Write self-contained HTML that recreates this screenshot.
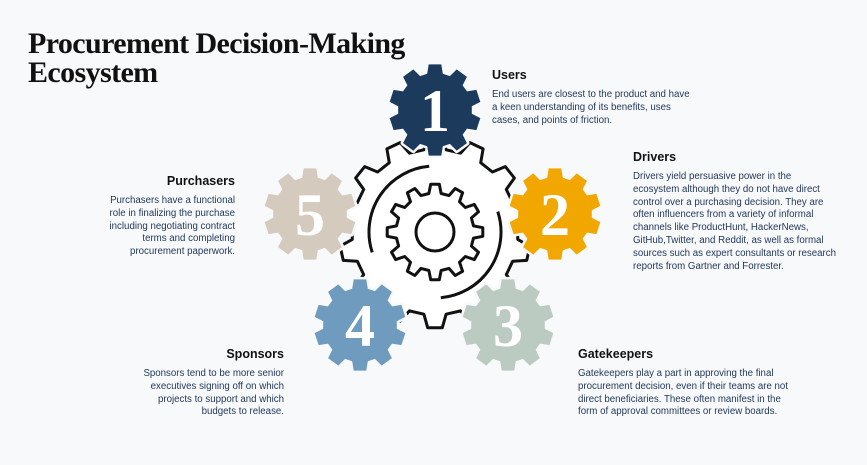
<!DOCTYPE html>
<html><head><meta charset="utf-8"><style>
html,body{margin:0;padding:0;background:#f8f9fb;}
#w{position:relative;width:867px;height:465px;overflow:hidden;background:#f8f9fb;font-family:"Liberation Sans",sans-serif;}
h1{position:absolute;left:28px;top:29px;margin:0;font:bold 30px/29px "Liberation Serif",serif;color:#111;letter-spacing:-0.6px;}
.t{position:absolute;font-size:9.7px;line-height:12.8px;color:#23395a;white-space:nowrap;}
.t b{display:block;font-size:12.5px;color:#111;line-height:14px;margin-bottom:7px;}
.r{text-align:right;}
svg{position:absolute;left:0;top:0;}
</style></head><body><div id="w">
<svg id="s" width="867" height="465"></svg>
<h1>Procurement Decision-Making<br>Ecosystem</h1>
<div class="t" style="left:492px;top:68px;width:240px"><b>Users</b>End users are closest to the product and have<br>a keen understanding of its benefits, uses<br>cases, and points of friction.</div>
<div class="t" style="left:633px;top:150px;width:230px"><b>Drivers</b>Drivers yield persuasive power in the<br>ecosystem although they do not have direct<br>control over a purchasing decision. They are<br>often influencers from a variety of informal<br>channels like ProductHunt, HackerNews,<br>GitHub,Twitter, and Reddit, as well as formal<br>sources such as expert consultants or research<br>reports from Gartner and Forrester.</div>
<div class="t r" style="left:35px;top:174px;width:200px"><b>Purchasers</b>Purchasers have a functional<br>role in finalizing the purchase<br>including negotiating contract<br>terms and completing<br>procurement paperwork.</div>
<div class="t r" style="left:64px;top:347px;width:220px"><b>Sponsors</b>Sponsors tend to be more senior<br>executives signing off on which<br>projects to support and which<br>budgets to release.</div>
<div class="t" style="left:578px;top:347px;width:250px"><b>Gatekeepers</b>Gatekeepers play a part in approving the final<br>procurement decision, even if their teams are not<br>direct beneficiaries. These often manifest in the<br>form of approval committees or review boards.</div>
</div>
<script>
function gear(cx,cy,n,R,r,rot,tb,tt){tb=tb||0.30;tt=tt||0.17;var p=[],s=2*Math.PI/n;for(var i=0;i<n;i++){var a=rot+i*s;var pts=[[a-s*tb,r],[a-s*tt,R],[a+s*tt,R],[a+s*tb,r]];pts.forEach(function(q){p.push((cx+q[1]*Math.sin(q[0])).toFixed(1)+","+(cy-q[1]*Math.cos(q[0])).toFixed(1));});}return "M"+p.join("L")+"Z";}
function arc(cx,cy,r,a1,a2){function P(a){return (cx+r*Math.sin(a)).toFixed(1)+","+(cy-r*Math.cos(a)).toFixed(1);}return "M"+P(a1)+"A"+r+","+r+" 0 0,0 "+P(a2);}
var d=Math.PI/180,h='';
h+='<path d="'+gear(435,232,14,96,83,0)+'" fill="#fff" stroke="#111" stroke-width="3" stroke-linejoin="round"/>';
h+='<path d="'+gear(435,232,12,48,39,0)+'" fill="#fff" stroke="#111" stroke-width="3" stroke-linejoin="round"/>';
h+='<circle cx="435" cy="232" r="19" fill="none" stroke="#111" stroke-width="3"/>';
h+='<path d="'+arc(435,232,66,-5*d,-108*d)+'" fill="none" stroke="#111" stroke-width="3"/>';
h+='<path d="'+arc(435,232,66,175*d,72*d)+'" fill="none" stroke="#111" stroke-width="3"/>';
var g=[[435,110,'#1b3a5c','1'],[555,214,'#f2a700','2'],[508,325,'#bccbc1','3'],[360,325,'#6f9bbe','4'],[310,214,'#d5cabe','5']];
g.forEach(function(o){var pth=gear(o[0],o[1],10,46,37,0,0.34,0.22);h+='<path d="'+pth+'" fill="'+o[2]+'" stroke="#f8f9fb" stroke-width="5" stroke-linejoin="round"/><path d="'+pth+'" fill="'+o[2]+'"/>';h+='<text x="'+o[0]+'" y="'+(o[1]+21)+'" text-anchor="middle" font-family="Liberation Serif,serif" font-weight="bold" font-size="60" fill="#fff">'+o[3]+'</text>';});
document.getElementById('s').innerHTML=h;
</script>
</body></html>
